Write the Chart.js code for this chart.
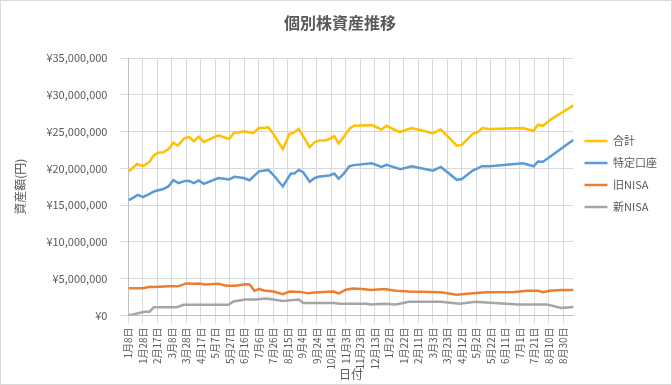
<!DOCTYPE html>
<html>
<head>
<meta charset="utf-8">
<script src="https://cdn.jsdelivr.net/npm/chart.js@4"></script>
<style>
    body { margin: 0; background: #fff; }
    #wrap { width: 672px; height: 385px; box-sizing: border-box; border: 1px solid #d9d9d9; }
</style>
</head>
<body>
<div id="wrap"><canvas id="chart"></canvas></div>
<script>
// Days counted from 2024-01-08, values in million yen

// 合計
const totalDays = [0, 4, 12, 20, 29, 34, 40, 48, 55, 62, 68, 77, 84, 90, 97, 104, 110, 124, 139, 146, 152, 159, 172, 180, 187, 193, 200, 213, 222, 227, 235, 241, 250, 257, 263, 271, 277, 284, 290, 297, 305, 311, 336, 349, 356, 374, 391, 420, 431, 453, 460, 475, 482, 488, 499, 544, 559, 565, 572, 581, 614];
const totalValues = [19.6, 19.9, 20.6, 20.3, 20.9, 21.7, 22.1, 22.2, 22.6, 23.5, 23.1, 24.1, 24.3, 23.7, 24.3, 23.6, 23.9, 24.5, 24.0, 24.9, 24.9, 25.05, 24.8, 25.5, 25.5, 25.6, 24.7, 22.6, 24.7, 24.8, 25.4, 24.4, 22.9, 23.6, 23.8, 23.8, 24.0, 24.4, 23.4, 24.3, 25.4, 25.8, 25.9, 25.3, 25.8, 24.95, 25.5, 24.8, 25.3, 23.1, 23.2, 24.7, 24.95, 25.5, 25.35, 25.5, 25.1, 25.95, 25.8, 26.55, 28.6];

// 特定口座
const tokuteiDays = [0, 4, 13, 20, 29, 36, 48, 55, 62, 69, 78, 84, 90, 97, 104, 124, 139, 146, 159, 167, 180, 193, 200, 213, 224, 229, 235, 241, 250, 257, 264, 277, 284, 290, 297, 305, 311, 336, 349, 356, 375, 391, 420, 431, 453, 460, 475, 488, 499, 544, 559, 565, 572, 614];
const tokuteiValues = [15.7, 15.85, 16.4, 16.1, 16.55, 16.9, 17.2, 17.55, 18.4, 18.0, 18.3, 18.3, 18.0, 18.35, 17.9, 18.7, 18.5, 18.85, 18.7, 18.4, 19.6, 19.8, 19.1, 17.55, 19.3, 19.3, 19.8, 19.5, 18.2, 18.7, 18.9, 19.05, 19.3, 18.6, 19.3, 20.3, 20.45, 20.7, 20.2, 20.5, 19.9, 20.3, 19.7, 20.2, 18.45, 18.55, 19.7, 20.3, 20.3, 20.7, 20.3, 20.95, 20.9, 23.9];

// 旧NISA
const oldNisaDays = [0, 20, 29, 35, 56, 68, 80, 90, 97, 106, 124, 135, 148, 161, 167, 174, 180, 187, 200, 213, 222, 237, 248, 257, 283, 290, 300, 309, 322, 335, 353, 369, 387, 431, 453, 475, 494, 532, 550, 565, 572, 581, 597, 614];
const oldNisaValues = [3.7, 3.7, 3.9, 3.85, 3.95, 3.95, 4.35, 4.3, 4.35, 4.2, 4.3, 4.05, 4.05, 4.25, 4.2, 3.35, 3.6, 3.4, 3.25, 2.9, 3.25, 3.2, 3.0, 3.1, 3.25, 3.0, 3.5, 3.65, 3.6, 3.45, 3.6, 3.35, 3.25, 3.15, 2.8, 3.0, 3.15, 3.2, 3.35, 3.35, 3.15, 3.35, 3.45, 3.45];

// 新NISA
const newNisaDays = [0, 4, 13, 22, 29, 35, 66, 76, 138, 145, 161, 175, 190, 200, 213, 235, 241, 283, 292, 327, 335, 353, 369, 387, 431, 457, 479, 494, 537, 577, 597, 614];
const newNisaValues = [0.05, 0.05, 0.3, 0.5, 0.5, 1.1, 1.1, 1.45, 1.45, 1.9, 2.15, 2.15, 2.3, 2.15, 1.95, 2.15, 1.7, 1.7, 1.6, 1.6, 1.5, 1.6, 1.5, 1.85, 1.85, 1.6, 1.85, 1.75, 1.5, 1.5, 1.0, 1.15];

// Axis settings
const startDate = Date.UTC(2024, 0, 8);
const lastDay = 614;
const dayStep = 20;
const yMax = 35000000;
const yStep = 5000000;

const textColor = '#595959';
const gridColor = '#d9d9d9';
const fontFamily = "'Noto Sans CJK JP', 'Noto Sans', sans-serif";

function toPoints(days, values) {
    return days.map((d, i) => ({ x: d, y: values[i] * 1000000 }));
}

function dayLabel(value) {
    const d = new Date(startDate + value * 86400000);
    return (d.getUTCMonth() + 1) + '月' + d.getUTCDate() + '日';
}

function lineDataset(label, points, color) {
    return {
        label: label,
        data: points,
        borderColor: color,
        backgroundColor: color,
        borderWidth: 2.5,
        pointRadius: 0,
        tension: 0
    };
}

const ctx = document.getElementById('chart').getContext('2d');

new Chart(ctx, {
    type: 'line',
    data: {
        datasets: [
            lineDataset('合計', toPoints(totalDays, totalValues), '#FFC000'),
            lineDataset('特定口座', toPoints(tokuteiDays, tokuteiValues), '#5B9BD5'),
            lineDataset('旧NISA', toPoints(oldNisaDays, oldNisaValues), '#ED7D31'),
            lineDataset('新NISA', toPoints(newNisaDays, newNisaValues), '#A5A5A5')
        ]
    },
    options: {
        responsive: true,
        maintainAspectRatio: false,
        animation: false,
        layout: {
            padding: { left: 12, right: 4, top: 4, bottom: 0 }
        },
        plugins: {
            title: {
                display: true,
                text: '個別株資産推移',
                color: textColor,
                font: { family: fontFamily, size: 16, weight: 'bold' },
                padding: { top: 8, bottom: 26 }
            },
            legend: {
                position: 'right',
                fullSize: false,
                align: 'start',
                // empty title used as a spacer above the items
                title: {
                    display: true,
                    text: '',
                    font: { family: fontFamily, size: 12 },
                    padding: 26
                },
                labels: {
                    color: textColor,
                    font: { family: fontFamily, size: 11 },
                    usePointStyle: true,
                    pointStyle: 'line',
                    pointStyleWidth: 23,
                    padding: 11
                }
            },
            tooltip: { enabled: false }
        },
        scales: {
            x: {
                type: 'linear',
                min: 0,
                max: lastDay,
                title: {
                    display: true,
                    text: '日付',
                    color: textColor,
                    font: { family: fontFamily, size: 12 },
                    padding: { top: -6, bottom: 2 }
                },
                grid: { color: gridColor },
                border: { color: '#bfbfbf' },
                ticks: {
                    stepSize: dayStep,
                    includeBounds: false,
                    autoSkip: false,
                    minRotation: 90,
                    maxRotation: 90,
                    padding: 4,
                    color: textColor,
                    font: { family: fontFamily, size: 10 },
                    callback: function(value) {
                        return dayLabel(value);
                    }
                }
            },
            y: {
                min: 0,
                max: yMax,
                title: {
                    display: true,
                    text: '資産額(円)',
                    color: textColor,
                    font: { family: fontFamily, size: 12 },
                    padding: { top: 0, bottom: 6 }
                },
                grid: { color: gridColor },
                border: { color: '#bfbfbf' },
                ticks: {
                    stepSize: yStep,
                    padding: 13,
                    color: textColor,
                    font: { family: fontFamily, size: 11 },
                    callback: function(value) {
                        return '¥' + value.toLocaleString('en-US');
                    }
                }
            }
        }
    }
});
</script>
</body>
</html>
